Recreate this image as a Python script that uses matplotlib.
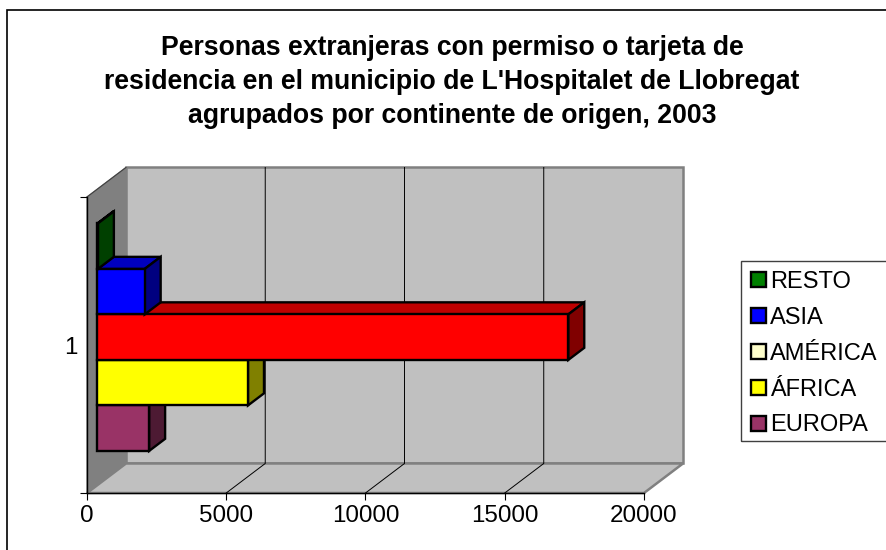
import matplotlib
matplotlib.use('Agg')
import matplotlib.pyplot as plt
from matplotlib.patches import Polygon, Rectangle

plt.rcParams['font.family'] = ['Liberation Sans', 'DejaVu Sans']

title = ("Personas extranjeras con permiso o tarjeta de\n"
         "residencia en el municipio de L'Hospitalet de Llobregat\n"
         "agrupados por continente de origen, 2003")

# bottom to top, same order as the bars are stacked
continents = ['EUROPA', 'ÁFRICA', 'AMÉRICA', 'ASIA', 'RESTO']
people = [1860, 5410, 16910, 1700, 20]
face_colors = ['#993366', '#FFFF00', '#FF0000', '#0000FF', '#008000']
top_colors = ['#732650', '#BFBF00', '#BF0000', '#0000BF', '#006000']
side_colors = ['#4D1A33', '#808000', '#800000', '#000080', '#004000']
# the legend of the original shows a different colour for AMÉRICA
legend_colors = ['#993366', '#FFFF00', '#FFFFCC', '#0000FF', '#008000']

x_ticks = [0, 5000, 10000, 15000, 20000]
x_max = 20000
depth_x = 1400   # depth of the box in x units
depth_y = 0.0997   # depth of the box in y units
bar_h = 0.1537
bar_front = 0.265
bar_back = 0.675


def skew(x, y, d):
    return (x + d * depth_x, y + d * depth_y)


fig = plt.figure(figsize=(8.87, 5.5), dpi=100)
fig.add_artist(Rectangle((7.5 / 887, -0.1), 1.0, 1 - 10 / 550 + 0.1, transform=fig.transFigure,
                         fill=False, ec='black', lw=1.2))

ax = fig.add_axes([87 / 887, 1 - 493 / 550, 557 / 887, 296 / 550])
ax.set_xlim(0, x_max)
ax.set_ylim(0.5, 1.5)
ax.patch.set_alpha(0)

# walls and floor
y0, y1 = 0.5, 1.5
wall = [skew(0, y0, 1), skew(x_max, y0, 1), skew(x_max, y1, 1), skew(0, y1, 1)]
side = [(0, y0), skew(0, y0, 1), skew(0, y1, 1), (0, y1)]
floor = [(0, y0), (x_max, y0), skew(x_max, y0, 1), skew(0, y0, 1)]
ax.add_patch(Polygon(wall, fc='#C0C0C0', ec='#808080', lw=1.8, clip_on=False, zorder=1))
ax.add_patch(Polygon(side, fc='#808080', ec='#808080', lw=1, clip_on=False, zorder=1))
ax.add_patch(Polygon(floor, fc='#C0C0C0', ec='#808080', lw=1.8, clip_on=False, zorder=1))
ax.plot([0, depth_x], [y1, y1 + depth_y], color='#404040', lw=0.8, clip_on=False, zorder=1.5)

# grid on the back wall and the floor
for t in x_ticks[1:-1]:
    ax.plot([t, t + depth_x, t + depth_x], [y0, y0 + depth_y, y1 + depth_y],
            color='black', lw=0.7, clip_on=False, zorder=1.5)

# bars, from the bottom up so the upper ones cover the lower ones
z = 2
for i in range(len(continents)):
    low = 1 - 2.5 * bar_h + i * bar_h
    high = low + bar_h
    v = people[i]
    top = [skew(0, high, bar_front), skew(v, high, bar_front), skew(v, high, bar_back), skew(0, high, bar_back)]
    right = [skew(v, low, bar_front), skew(v, low, bar_back), skew(v, high, bar_back), skew(v, high, bar_front)]
    front = [skew(0, low, bar_front), skew(v, low, bar_front), skew(v, high, bar_front), skew(0, high, bar_front)]
    for pts, col in [(top, top_colors[i]), (right, side_colors[i]), (front, face_colors[i])]:
        ax.add_patch(Polygon(pts, fc=col, ec='black', lw=1.7, joinstyle='miter', clip_on=False, zorder=z))
        z += 0.1

for s in ['top', 'right']:
    ax.spines[s].set_visible(False)
for s in ['left', 'bottom']:
    ax.spines[s].set_linewidth(1.0)
    ax.spines[s].set_zorder(1.6)

ax.set_xticks(x_ticks)
ax.tick_params(axis='x', labelsize=17.4, length=5, width=0.8, pad=4)
ax.set_yticks([y0, y1], ['', ''])
ax.set_yticks([1], ['1'], minor=True)
ax.tick_params(axis='y', which='major', length=5, width=0.8)
ax.tick_params(axis='y', which='minor', length=0, labelsize=17.4, pad=7)

fig.text(452 / 887, 1 - 82 / 550, title, ha='center', va='center', fontsize=19.2,
         fontweight='bold', linespacing=1.38)

# legend, its box runs off the right edge of the picture
fig.add_artist(Rectangle((741 / 887, 1 - 441 / 550), 0.3, 180 / 550, transform=fig.transFigure,
                         fill=False, ec='#404040', lw=1.0))
handles = [Rectangle((0, 0), 1, 1, fc=c, ec='black', lw=1.7) for c in legend_colors[::-1]]
fig.legend(handles, continents[::-1], loc='upper left', bbox_to_anchor=(744 / 887, 1 - 263.5 / 550),
           frameon=False, fontsize=17, handlelength=0.62, handleheight=0.62, handletextpad=0.18,
           labelspacing=0.592, borderpad=0.3, borderaxespad=0)

fig.savefig('out.png', dpi=100)
plt.close(fig)
